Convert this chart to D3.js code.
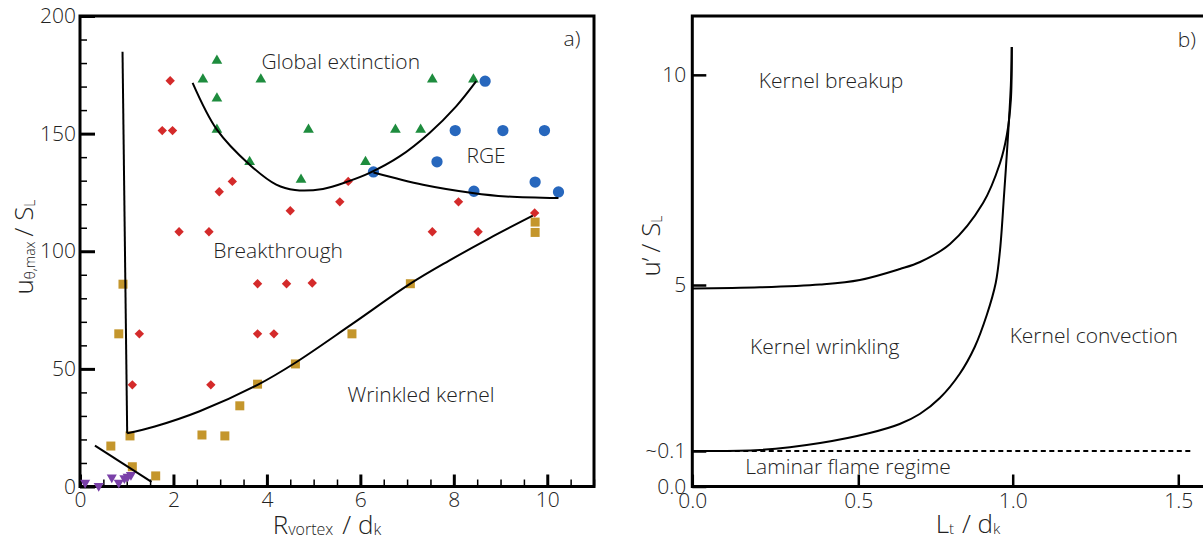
<!DOCTYPE html>
<html><head><meta charset="utf-8">
<script src="https://cdn.jsdelivr.net/npm/d3@7"></script>
<style>
body{margin:0;background:#fff}
text{font-family:"Open Sans","Liberation Sans",sans-serif;font-weight:300;fill:#222}
</style></head>
<body><svg id="c" width="1203" height="540"></svg>
<script>
// ---------- Panel a) data ----------
const xTicksA = [0, 2, 4, 6, 8, 10];
const yTicksA = [0, 50, 100, 150, 200];
const globalExtinction = [[2.93,181],[2.63,173],[3.87,173],[2.93,165],[2.93,151.7],[3.63,138],[4.89,151.7],[6.75,151.7],[7.29,151.7],[7.54,173],[8.42,173],[6.11,138],[4.73,130.4]];
const breakthrough = [[1.93,172.5],[1.76,151.3],[1.98,151.3],[3.26,129.7],[2.98,125.3],[4.5,117.2],[2.12,108.3],[2.76,108.3],[5.74,129.7],[5.56,121],[8.1,121],[9.73,116.3],[7.54,108.3],[8.52,108.3],[3.8,86.2],[4.42,86.2],[4.97,86.5],[3.8,64.9],[4.15,64.9],[1.27,64.9],[1.12,43.2],[2.8,43.2]];
const rge = [[8.67,172.3],[8.03,151.3],[9.05,151.3],[9.94,151.3],[7.64,138],[6.28,133.7],[8.43,125.5],[9.74,129.4],[10.24,125.2]];
const wrinkled = [[9.74,112.4],[9.74,108],[0.92,86],[0.83,64.9],[1.07,21.5],[0.66,17.2],[1.12,8.4],[1.62,4.5],[2.61,21.9],[3.1,21.5],[3.42,34.3],[3.8,43.5],[4.61,52.1],[5.82,64.9],[7.07,86.2]];
const laminar = [[0.11,1.6],[0.4,0.2],[0.68,3.9],[0.83,1.6],[0.95,3.5],[1.02,4.2],[1.09,4.9]];
// boundaries
const bVertical = [[0.91,184.8],[1.01,22.6]];
const bWrinkled = [[1.01,22.6],[1.6,25.5],[2.56,32],[3.8,43.2],[4.6,52.5],[5.82,69],[7.07,86.2],[7.9,96],[8.76,105.5],[9.69,115.1]];
const bExtinction = [[2.41,171.6],[2.93,151.7],[3.63,136.8],[4.2,128.3],[4.6,126],[5.2,126.5],[5.74,129.7],[6.2,133.3],[6.84,140.3],[7.48,150.3],[8.05,161.6],[8.48,172.3]];
const bRGE = [[6.28,133.5],[7.34,128.3],[8.4,124.8],[9.12,123.3],[10.24,122.6]];
const bLaminar = [[0.32,17.4],[1.53,2]];
const labelsA = [["Global extinction",5.58,177.5],["RGE",8.69,137.5],["Breakthrough",4.24,97.1],["Wrinkled kernel",7.30,36],["a)",10.53,187.2]];

// ---------- Panel b) data ----------
const xTicksB = [0, 0.5, 1.0, 1.5];
const xTickLabelsB = ["0.0","0.5","1.0","1.5"];
const yTicksB = [0, 0.1, 5, 10];
const yTickLabelsB = ["0.0","~0.1","5","10"];
const breakupCurve = [[0,4.897],[0.204,4.932],[0.385,5.012],[0.505,5.119],[0.635,5.381],[0.700,5.547],[0.797,5.976],[0.904,6.951],[0.959,7.903],[0.981,8.569],[0.994,9.401],[0.997,10.662]];
const convectionCurve = [[0,0.10],[0.204,0.130],[0.385,0.336],[0.537,0.631],[0.634,0.897],[0.699,1.192],[0.764,1.664],[0.828,2.373],[0.877,3.170],[0.916,4.114],[0.945,5.048],[0.959,5.833],[0.972,7.141],[0.985,8.569],[0.994,9.758],[0.997,10.662]];
const laminarLimit = 0.1;
const laminarExtent = [0, 1.545];
const labelsB = [["Kernel breakup",0.418,9.69],["Kernel wrinkling",0.399,2.96],["Kernel convection",1.245,3.30],["Laminar flame regime",0.469,0.035],["b)",1.526,10.66]];

const svg = d3.select("#c");
const FS = 21;

// ================= Panel a =================
const xA = d3.scaleLinear().domain([0, 11]).range([80, 594]);
const yA = d3.scaleLinear().domain([0, 200]).range([486.5, 16]);
const gA = svg.append("g");

function styleAxis(g, sw){
  g.select(".domain").remove();
  g.selectAll(".tick line").attr("stroke","#000").attr("stroke-width", sw);
  g.selectAll(".tick text").attr("font-size", FS).attr("fill","#222");
}
// minor x
gA.append("g").attr("transform",`translate(0,${yA(0)})`)
  .call(d3.axisBottom(xA).tickValues(d3.range(0, 11.01, 0.5).filter(v=>v%2!==0)).tickSizeInner(-7).tickSizeOuter(0).tickFormat(""))
  .call(g=>styleAxis(g,1.5));
gA.append("g").attr("transform",`translate(0,${yA(0)})`)
  .call(d3.axisBottom(xA).tickValues(xTicksA).tickSizeInner(-12).tickSizeOuter(0).tickPadding(5.5).tickFormat(d3.format("d")))
  .call(g=>styleAxis(g,3));
// minor y
gA.append("g").attr("transform",`translate(${xA(0)},0)`)
  .call(d3.axisLeft(yA).tickValues(d3.range(0, 201, 10).filter(v=>v%50!==0)).tickSizeInner(-7).tickSizeOuter(0).tickFormat(""))
  .call(g=>styleAxis(g,1.5));
gA.append("g").attr("transform",`translate(${xA(0)},0)`)
  .call(d3.axisLeft(yA).tickValues(yTicksA).tickSizeInner(-15).tickSizeOuter(0).tickPadding(4).tickFormat(d3.format("d")))
  .call(g=>styleAxis(g,3));

gA.append("rect").attr("x",xA(0)).attr("y",yA(200)).attr("width",xA(11)-xA(0)).attr("height",yA(0)-yA(200))
  .attr("fill","none").attr("stroke","#000").attr("stroke-width",3);

function markers(g, data, x, y, type, size, rot, color){
  g.append("g").selectAll("path").data(data).join("path")
    .attr("transform", d=>`translate(${x(d[0])},${y(d[1])}) rotate(${rot})`)
    .attr("d", d3.symbol(type, size)).attr("fill", color);
}
markers(gA, globalExtinction, xA, yA, d3.symbolTriangle, 50, 0, "#1e8c3e");
markers(gA, breakthrough, xA, yA, d3.symbolSquare, 44, 45, "#d42a2a");
markers(gA, rge, xA, yA, d3.symbolCircle, 100, 0, "#2767bd");
markers(gA, wrinkled, xA, yA, d3.symbolSquare, 81, 0, "#c4962c");
markers(gA, laminar, xA, yA, d3.symbolTriangle, 44, 180, "#7a40a8");

const lineA = d3.line().x(d=>xA(d[0])).y(d=>yA(d[1])).curve(d3.curveCatmullRom.alpha(0.5));
[bVertical, bWrinkled, bExtinction, bRGE, bLaminar].forEach(b=>{
  gA.append("path").attr("d", lineA(b)).attr("fill","none").attr("stroke","#000").attr("stroke-width",2);
});
gA.append("g").selectAll("text").data(labelsA).join("text")
  .attr("x", d=>xA(d[1])).attr("y", d=>yA(d[2])).attr("text-anchor","middle")
  .attr("font-size", FS).text(d=>d[0]);

// axis titles a
const tA = gA.append("text").attr("x", 327).attr("y", 534).attr("text-anchor","middle").attr("font-size",26);
tA.append("tspan").text("R");
tA.append("tspan").attr("font-size",16).attr("dy",1).text("vortex");
tA.append("tspan").attr("dx",9).attr("dy",-1).text("/ d");
tA.append("tspan").attr("font-size",16).attr("dy",1).text("k");

const tAy = gA.append("text").attr("transform","translate(33,247) rotate(-90)").attr("text-anchor","middle").attr("font-size",26);
tAy.append("tspan").text("u");
tAy.append("tspan").attr("font-size",14).attr("dy",2).text("θ,max");
tAy.append("tspan").attr("dx",5).attr("dy",-2).text("/ S");
tAy.append("tspan").attr("font-size",14).attr("dy",2).text("L");

// ================= Panel b =================
const xB = d3.scaleLinear().domain([0, 0.5, 1, 1.6]).range([692.3, 858.3, 1012.7, 1211.4]);
const yB = d3.scaleLinear().domain([0, 0.1, 5, 11.4]).range([486.5, 451, 285, 16]);
const gB = svg.append("g");

gB.append("g").attr("transform",`translate(0,${yB(0)})`)
  .call(d3.axisBottom(xB).tickValues(xTicksB).tickSizeInner(-12).tickSizeOuter(0).tickPadding(6.5).tickFormat((d,i)=>xTickLabelsB[i]))
  .call(g=>styleAxis(g,2.5));
gB.append("g").attr("transform",`translate(${xB(0)},0)`)
  .call(d3.axisLeft(yB).tickValues(yTicksB).tickSizeInner(-14).tickSizeOuter(0).tickPadding(6).tickFormat((d,i)=>yTickLabelsB[i]))
  .call(g=>styleAxis(g,2.5));

gB.append("path").attr("d", `M${xB(1.6)},${yB(11.4)}H${xB(0)}V${yB(0)}H${xB(1.6)}`)
  .attr("fill","none").attr("stroke","#000").attr("stroke-width",3);

const lineB = d3.line().x(d=>xB(d[0])).y(d=>yB(d[1])).curve(d3.curveCatmullRom.alpha(0.5));
[breakupCurve, convectionCurve].forEach(b=>{
  gB.append("path").attr("d", lineB(b)).attr("fill","none").attr("stroke","#000").attr("stroke-width",2);
});
gB.append("line").attr("x1", xB(laminarExtent[0])).attr("x2", xB(laminarExtent[1]))
  .attr("y1", yB(laminarLimit)).attr("y2", yB(laminarLimit))
  .attr("stroke","#000").attr("stroke-width",2).attr("stroke-dasharray","5,3.5");

gB.append("g").selectAll("text").data(labelsB).join("text")
  .attr("x", d=>xB(d[1])).attr("y", d=>yB(d[2])).attr("text-anchor","middle")
  .attr("font-size", FS).text(d=>d[0]);

const tB = gB.append("text").attr("x", 968).attr("y", 533).attr("text-anchor","middle").attr("font-size",26);
tB.append("tspan").text("L");
tB.append("tspan").attr("font-size",15).attr("dy",1).text("t");
tB.append("tspan").attr("dx",8).attr("dy",-1).text("/ d");
tB.append("tspan").attr("font-size",15).attr("dy",1).text("k");

const tBy = gB.append("text").attr("transform","translate(660,246) rotate(-90)").attr("text-anchor","middle").attr("font-size",26);
tBy.append("tspan").text("u’");
tBy.append("tspan").attr("dx",5).text("/ S");
tBy.append("tspan").attr("font-size",14).attr("dy",2).text("L");
</script>
</body></html>
